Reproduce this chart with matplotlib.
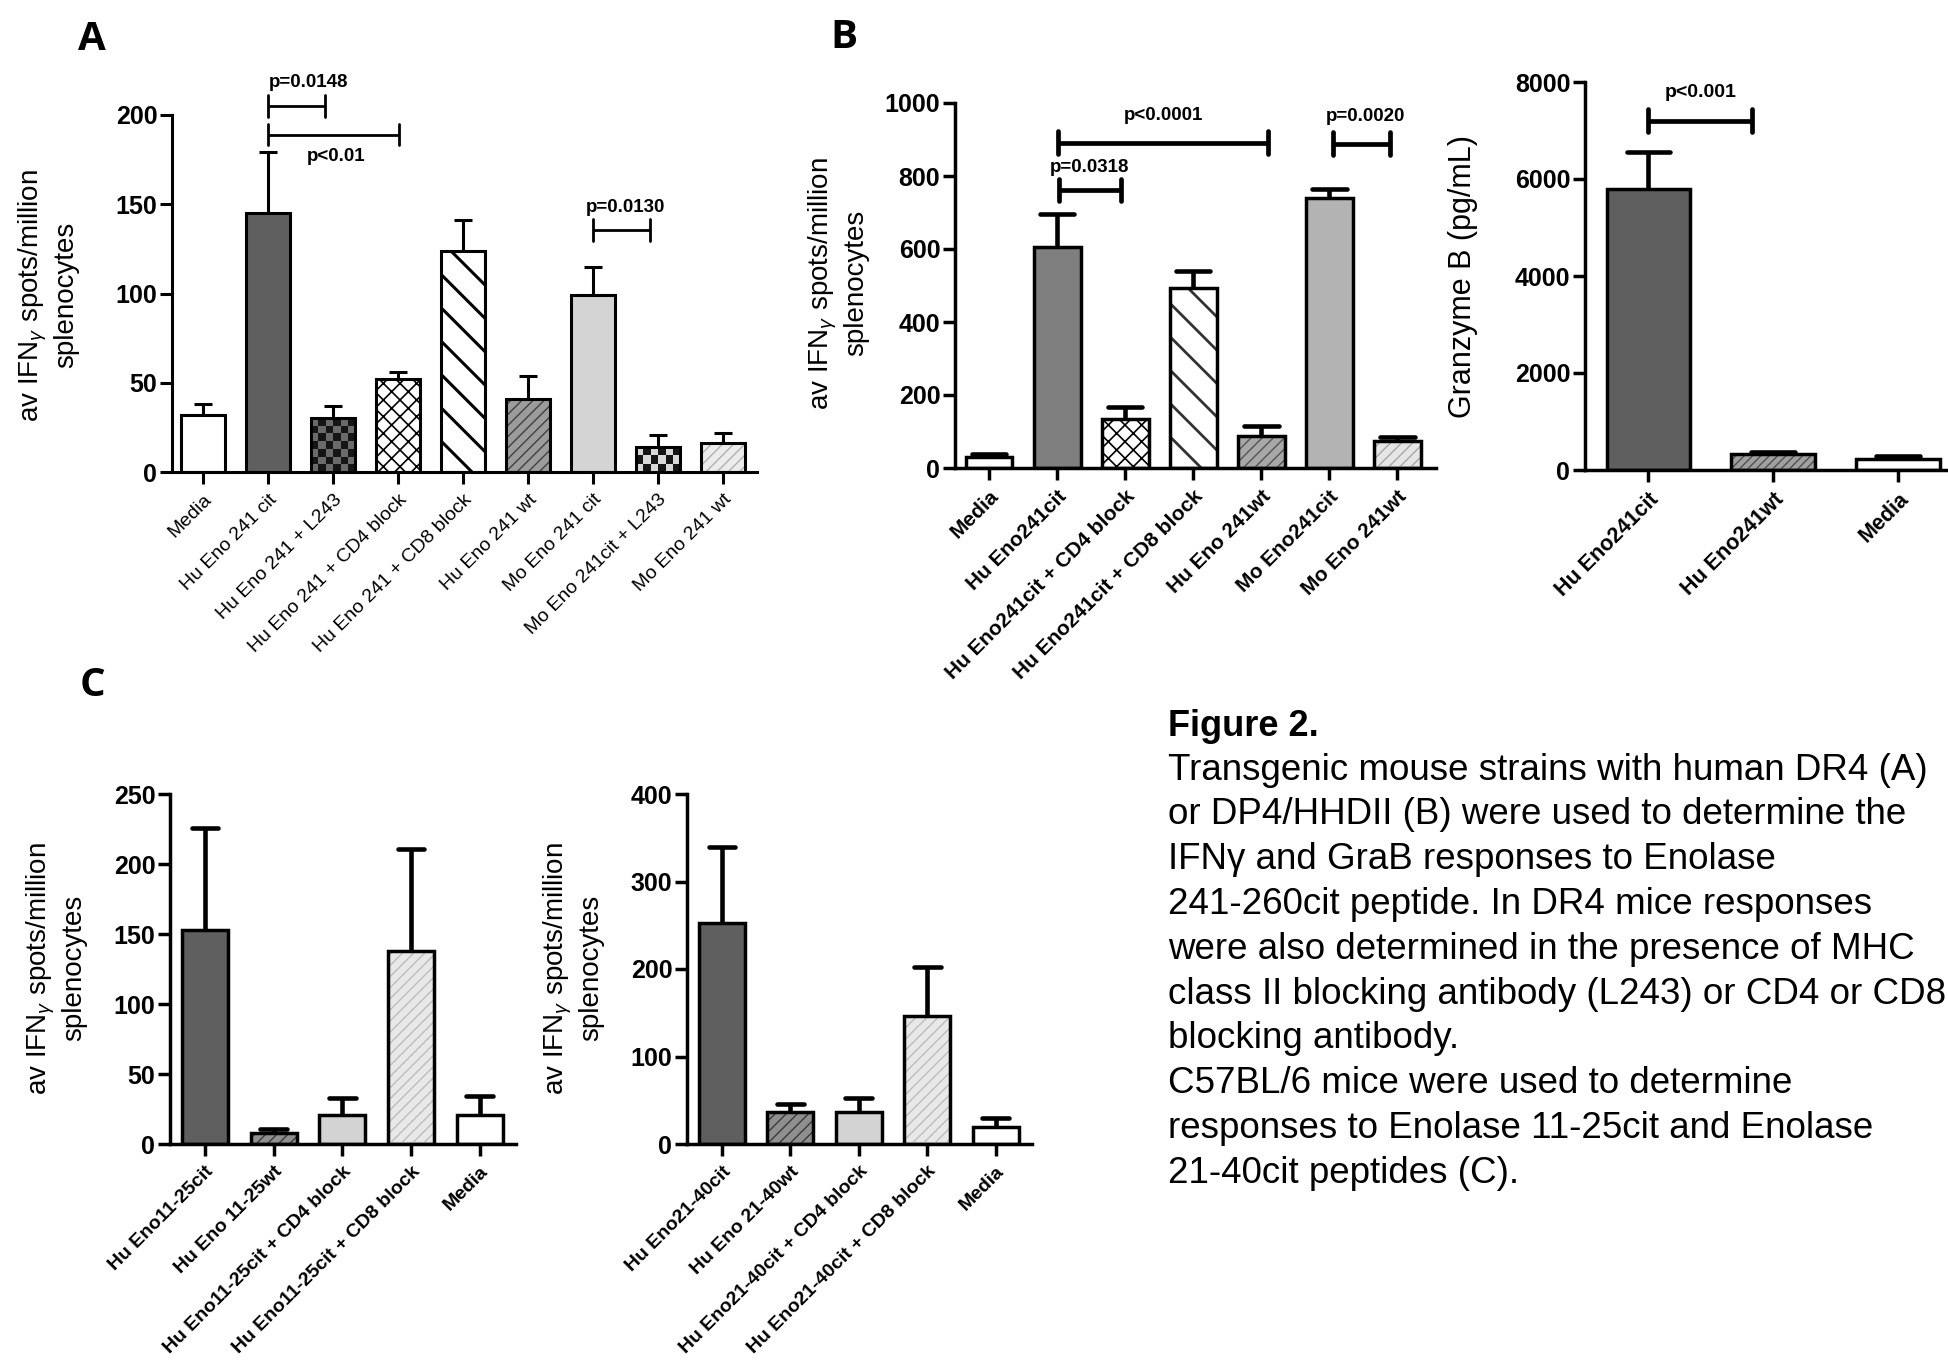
import numpy as np
import matplotlib
matplotlib.use('Agg')
import matplotlib.pyplot as plt
from matplotlib.colors import ListedColormap

# ---------------- data ----------------
# panel A: DR4 mice, IFNg ELISpot
a_labels = ['Media', 'Hu Eno 241 cit', 'Hu Eno 241 + L243', 'Hu Eno 241 + CD4 block',
            'Hu Eno 241 + CD8 block', 'Hu Eno 241 wt', 'Mo Eno 241 cit',
            'Mo Eno 241cit + L243', 'Mo Eno 241 wt']
a_mean = [32, 145, 30, 52, 124, 41, 99, 14, 16]
a_top = [38, 179, 37, 56, 141, 54, 115, 21, 22]

# panel B left: DP4/HHDII mice, IFNg ELISpot
b_labels = ['Media', 'Hu Eno241cit', 'Hu Eno241cit + CD4 block', 'Hu Eno241cit + CD8 block',
            'Hu Eno 241wt', 'Mo Eno241cit', 'Mo Eno 241wt']
b_mean = [30, 605, 134, 493, 89, 741, 73]
b_top = [37, 696, 167, 541, 116, 764, 84]

# panel B right: granzyme B
g_labels = ['Hu Eno241cit', 'Hu Eno241wt', 'Media']
g_mean = [5795, 325, 222]
g_top = [6564, 367, 282]

# panel C: C57BL/6 mice
c1_labels = ['Hu Eno11-25cit', 'Hu Eno 11-25wt', 'Hu Eno11-25cit + CD4 block',
             'Hu Eno11-25cit + CD8 block', 'Media']
c1_mean = [153, 8, 20.5, 138, 20.5]
c1_top = [226, 10.7, 32.6, 211, 34]

c2_labels = ['Hu Eno21-40cit', 'Hu Eno 21-40wt', 'Hu Eno21-40cit + CD4 block',
             'Hu Eno21-40cit + CD8 block', 'Media']
c2_mean = [253, 36.6, 36.6, 146, 19.4]
c2_top = [340, 45.7, 53, 202, 29.7]

# significance brackets: (from, to, y, label, text x, text y)
a_sig = [(1, 1.87, 205, 'p=0.0148', 1.62, 218),
         (1, 3.02, 189, 'p<0.01', 2.05, 176.5),
         (6, 6.88, 135.6, 'p=0.0130', 6.5, 148)]
b_sig = [(1.01, 4.1, 891, 'p<0.0001', 2.56, 967),
         (1.03, 1.94, 762, 'p=0.0318', 1.48, 822),
         (5.05, 5.9, 889, 'p=0.0020', 5.53, 964)]
g_sig = [(0, 0.83, 7205, 'p<0.001', 0.42, 7786)]

caption = ['Transgenic mouse strains with human DR4 (A)',
           'or DP4/HHDII (B) were used to determine the',
           'IFN\u03b3 and GraB responses to Enolase',
           '241-260cit peptide. In DR4 mice responses',
           'were also determined in the presence of MHC',
           'class II blocking antibody (L243) or CD4 or CD8',
           'blocking antibody.',
           'C57BL/6 mice were used to determine',
           'responses to Enolase 11-25cit and Enolase',
           '21-40cit peptides (C).']

# bar styles: (fill, pattern, pattern colour, pattern linewidth)
a_style = [('white', None, None, 0),
           ('#5f5f5f', None, None, 0),
           ('#6a6a6a', 'checker', '#151515', 0),
           ('white', 'xx', 'black', 1.2),
           ('white', '\\', 'black', 2.2),
           ('#9c9c9c', '///', '#404040', 1.0),
           ('#d4d4d4', None, None, 0),
           ('#d8d8d8', 'checker', '#151515', 0),
           ('#ececec', '///', '#b0b0b0', 1.0)]
b_style = [('white', None, None, 0),
           ('#7f7f7f', None, None, 0),
           ('white', 'xx', 'black', 1.2),
           ('white', '\\', '#333333', 2.0),
           ('#a8a8a8', '///', '#555555', 1.0),
           ('#b3b3b3', None, None, 0),
           ('#e6e6e6', '///', '#a8a8a8', 1.0)]
g_style = [('#5f5f5f', None, None, 0),
           ('#a0a0a0', '////', '#505050', 1.0),
           ('white', None, None, 0)]
c_style = [('#5f5f5f', None, None, 0),
           ('#8f8f8f', '///', '#3a3a3a', 1.0),
           ('#d3d3d3', None, None, 0),
           ('#e8e8e8', '///', '#bdbdbd', 1.0),
           ('white', None, None, 0)]

plt.rcParams['font.family'] = ['Liberation Sans', 'DejaVu Sans']
plt.rcParams['mathtext.fontset'] = 'custom'
plt.rcParams['mathtext.rm'] = 'Liberation Sans'
plt.rcParams['mathtext.it'] = 'Liberation Sans:italic'
plt.rcParams['mathtext.bf'] = 'Liberation Sans:bold'
plt.rcParams['hatch.linewidth'] = 1.2

W, H = 1948, 1360
fig = plt.figure(figsize=(W / 100, H / 100), dpi=100)
fig.patch.set_facecolor('white')


def add_ax(left, top, right, bottom):
    # pixel box of the plotting area -> figure fraction
    return fig.add_axes([left / W, 1 - bottom / H, (right - left) / W, (bottom - top) / H])


def setup(ax, labels, xlim, yticks, tick_fs, tick_bold, lw):
    ax.set_xlim(*xlim)
    ax.set_ylim(yticks[0], yticks[-1])
    ax.patch.set_visible(False)
    for s in ['top', 'right']:
        ax.spines[s].set_visible(False)
    for s in ['left', 'bottom']:
        ax.spines[s].set_linewidth(lw)
    ax.set_xticks(np.arange(len(labels)))
    ax.set_xticklabels(labels, rotation=45, ha='right', va='top', rotation_mode='anchor',
                       fontsize=tick_fs, fontweight='bold' if tick_bold else 'normal')
    ax.set_yticks(yticks)
    ax.set_yticklabels([str(v) for v in yticks], fontsize=18, fontweight='bold')
    ax.tick_params(axis='both', length=8.6, width=lw, direction='out')
    ax.tick_params(axis='y', pad=2)
    ax.tick_params(axis='x', pad=5)


def checker(ax, xc, h, width, c1, c2, cell=7.5):
    x0, x1 = xc - width / 2, xc + width / 2
    p0 = ax.transData.transform((x0, 0))
    p1 = ax.transData.transform((x1, h))
    nx = max(2, int(round(abs(p1[0] - p0[0]) / cell)))
    ny = max(2, int(round(abs(p1[1] - p0[1]) / cell)))
    img = np.add.outer(np.arange(ny), np.arange(nx)) % 2
    ax.imshow(img, extent=(x0, x1, 0, h), cmap=ListedColormap([c1, c2]), aspect='auto',
              interpolation='nearest', origin='lower', zorder=3)


def draw_bars(ax, means, tops, styles, width, edge_lw, err_lw, cap_w, round_caps=False):
    x = np.arange(len(means))
    for xi, m, (fill, pat, pcol, plw) in zip(x, means, styles):
        ax.bar(xi, m, width, color=fill, linewidth=0, zorder=2)
        if pat == 'checker':
            checker(ax, xi, m, width, fill, pcol)
        elif pat:
            with plt.rc_context({'hatch.linewidth': plw}):
                hb = ax.bar(xi, m, width, color='none', edgecolor=pcol, linewidth=0,
                            hatch=pat, zorder=3)
            for p in hb.patches:
                if hasattr(p, 'set_hatch_linewidth'):
                    p.set_hatch_linewidth(plw)
        ax.bar(xi, m, width, color='none', edgecolor='black', linewidth=edge_lw, zorder=4)
    ax.vlines(x, means, tops, colors='black', linewidth=err_lw, zorder=5)
    c = ax.hlines(tops, x - cap_w / 2, x + cap_w / 2, colors='black', linewidth=err_lw, zorder=5)
    if round_caps:
        c.set_capstyle('round')


def brackets(ax, sig, dy, lw, fs):
    for x0, x1, y, lab, tx, ty in sig:
        ax.plot([x0, x1], [y, y], color='black', lw=lw, clip_on=False,
                solid_capstyle='butt', zorder=6)
        e = ax.vlines([x0, x1], y - dy, y + dy, colors='black', linewidth=lw, zorder=6)
        e.set_clip_on(False)
        e.set_capstyle('round')
        ax.text(tx, ty, lab, ha='center', va='center', fontsize=fs, fontweight='bold',
                clip_on=False)


def ylabel(x, y, s, fs):
    fig.text(x / W, 1 - y / H, s, rotation=90, ha='center', va='center',
             multialignment='center', fontsize=fs)


ifn_label = 'av IFN$_\\gamma$ spots/million\nsplenocytes'

# ---------------- panel A ----------------
axA = add_ax(172, 115, 757, 472)
setup(axA, a_labels, (-0.477, 8.52), [0, 50, 100, 150, 200], 14, False, 2.2)
draw_bars(axA, a_mean, a_top, a_style, 0.68, 2.2, 2.2, 0.28)
brackets(axA, a_sig, 6, 2.0, 13.5)
ylabel(48, 295, ifn_label, 20)

# ---------------- panel B left ----------------
axB = add_ax(955, 103, 1436, 468)
setup(axB, b_labels, (-0.5, 6.57), [0, 200, 400, 600, 800, 1000], 15, True, 2.5)
draw_bars(axB, b_mean, b_top, b_style, 0.69, 2.5, 3.3, 0.51, round_caps=True)
brackets(axB, b_sig, 31, 3.4, 13.5)
ylabel(838, 283, ifn_label, 20)

# ---------------- panel B right ----------------
axG = add_ax(1585, 82, 1948, 470)
setup(axG, g_labels, (-0.508, 2.4), [0, 2000, 4000, 6000, 8000], 15.5, True, 2.5)
draw_bars(axG, g_mean, g_top, g_style, 0.67, 2.5, 3.3, 0.35, round_caps=True)
brackets(axG, g_sig, 240, 3.4, 14)
ylabel(1463, 277, 'Granzyme B (pg/mL)', 22)

# ---------------- panel C ----------------
axC1 = add_ax(170, 794, 516, 1144)
setup(axC1, c1_labels, (-0.51, 4.53), [0, 50, 100, 150, 200, 250], 14, True, 2.5)
draw_bars(axC1, c1_mean, c1_top, c_style, 0.67, 2.5, 3.3, 0.39, round_caps=True)
ylabel(56, 968, ifn_label, 20)

axC2 = add_ax(687, 794, 1032, 1144)
setup(axC2, c2_labels, (-0.51, 4.53), [0, 100, 200, 300, 400], 14, True, 2.5)
draw_bars(axC2, c2_mean, c2_top, c_style, 0.67, 2.5, 3.3, 0.39, round_caps=True)
ylabel(573, 968, ifn_label, 20)

# panel letters
for lab, x, y in [('A', 92, 39), ('B', 844, 38), ('C', 92, 685)]:
    fig.text(x / W, 1 - y / H, lab, ha='center', va='center', fontsize=29,
             fontweight='bold', family=['Open Sans', 'DejaVu Sans'])

# legend text
fig.text(1168 / W, 1 - 727 / H, 'Figure 2.', ha='left', va='center', fontsize=26,
         fontweight='bold')
for i, line in enumerate(caption):
    fig.text(1168 / W, 1 - (770 + 44.8 * i) / H, line, ha='left', va='center', fontsize=26.5)

fig.savefig('out.png', dpi=100, facecolor='white')
